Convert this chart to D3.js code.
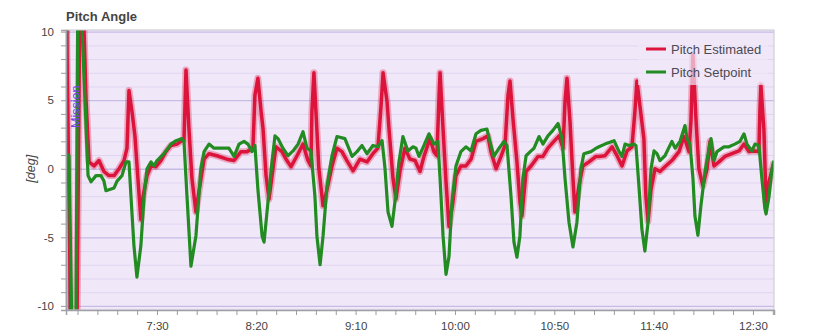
<!DOCTYPE html>
<html>
<head>
<meta charset="utf-8">
<script src="https://cdn.jsdelivr.net/npm/d3@7"></script>
<style>
  body { margin: 0; background: #fff; font-family: "Liberation Sans", Arial, sans-serif; }
</style>
</head>
<body>
<div id="chart"></div>
<script>
// time in seconds, pitch in degrees
var pitchEstimated = [
  [404.2,13],[406.7,-12],[409.7,-12],[411.2,13],[412.7,13],[414.3,5.0],[415.8,0.5],[418.3,0.2],[420.8,0.6],
  [423.3,-0.2],[425.8,-0.5],[428.4,-0.5],[430.9,0],[433.4,0.6],[434.9,1.5],[435.9,5.7],[437.4,4.2],[438.9,2.4],
  [440.4,-0.7],[441.9,-3.7],[443.0,-2.0],[445.0,-0.5],[447.0,0.2],[449.5,0.15],[452.0,0.6],[454.5,1.25],
  [457.0,1.7],[460.1,1.8],[462.6,2.05],[463.6,2.1],[464.6,7.2],[466.1,2.9],[467.6,-0.7],[469.6,-3.15],
  [471.1,-1.7],[473.7,0.7],[476.2,1.1],[480.2,0.95],[485.2,0.7],[488.8,0.6],[492.3,1.25],[495.3,1.25],
  [498.3,1.5],[499.3,5.35],[500.8,6.6],[502.4,4.2],[503.4,2.9],[504.9,-0.5],[506.4,-2.2],[508.4,0],
  [509.9,1.6],[512.9,1.25],[515.4,0.6],[517.5,0.15],[520.5,0.95],[523.5,1.8],[526.0,0.6],[527.5,0.2],
  [528.0,4.2],[529.0,7.0],[530.0,4.2],[531.5,0],[533.6,-2.7],[535.6,-1.5],[538.1,0.2],[540.6,1.5],
  [543.1,1.25],[545.6,0.6],[548.7,-0.15],[552.2,0.7],[555.7,0.5],[558.7,1.1],[561.2,1.5],[562.8,4.6],
  [563.8,7.0],[565.8,4.9],[566.8,2.9],[568.8,-0.7],[570.3,-2.2],[572.3,-0.2],[574.8,1.5],[577.4,0.7],
  [579.9,0.6],[582.4,-0.2],[584.4,0.9],[587.4,2.2],[589.4,1.25],[590.9,0.95],[592.0,5.35],[592.5,7.0],
  [594.0,2.9],[595.5,-0.95],[597.0,-4.2],[599.0,-2.4],[600.5,-0.5],[603.0,0.2],[605.5,0.2],[608.1,0.7],
  [610.6,2.0],[614.1,2.2],[616.6,2.4],[618.1,1.25],[620.7,0],[623.2,0.9],[625.2,1.7],[626.7,5.35],
  [627.7,6.4],[629.2,3.65],[631.2,0.5],[632.7,-2.4],[633.7,-3.45],[635.8,-0.2],[638.3,0.2],[641.8,0.9],
  [644.3,0.9],[646.8,1.5],[649.8,2.0],[652.4,2.4],[654.4,1.5],[655.4,4.9],[656.4,6.6],[657.9,3.45],
  [659.4,-0.7],[660.4,-3.15],[662.4,-1.25],[664.4,0.2],[667.5,0.5],[671.0,0.9],[672.5,0.9],[675.5,0.95],
  [679.1,1.6],[681.6,0.95],[684.1,0.2],[686.6,1.3],[689.1,1.6],[690.6,4.2],[691.6,6.4],[693.1,4.6],
  [695.1,2.2],[696.1,-2.0],[697.2,-3.8],[698.7,-1.5],[700.7,0],[703.2,-0.2],[705.7,0.15],[709.2,0.6],
  [712.8,1.25],[715.3,2.35],[717.8,1.25],[718.8,3.45],[719.8,8.3],[721.3,3.65],[722.8,0],[724.8,-1.25],
  [726.9,0],[728.4,2.0],[730.4,0.2],[732.9,0.5],[735.9,0.9],[739.4,1.1],[743.0,1.3],[745.5,1.8],
  [748.0,1.25],[751.0,1.3],[753.0,1.25],[753.5,4.2],[754.0,6.1],[755.5,2.9],[756.6,-2.4],[758.1,-0.95],
  [760.6,0.5]
];

var pitchSetpoint = [
  [404.2,1.1],[405.7,0.95],[407.2,-12],[409.2,-12],[410.2,14],[411.7,14],[412.2,10.5],[415.3,-0.5],
  [416.8,-0.95],[419.3,-0.5],[421.8,-0.5],[423.3,-0.9],[424.3,-1.6],[428.4,-1.4],[429.9,-0.9],[432.4,-0.5],
  [434.4,0.5],[435.9,0.5],[436.9,-2.0],[438.4,-5.6],[439.9,-7.9],[441.9,-5.6],[443.5,-2.0],[445.0,0],
  [447.0,0.5],[448.5,0.2],[450.0,0.6],[453.5,1.1],[457.0,1.8],[459.6,2.05],[462.6,2.2],[463.6,2.0],
  [465.1,-2.0],[467.1,-7.1],[469.6,-4.9],[472.1,0],[473.7,1.25],[476.2,1.8],[478.7,1.5],[482.2,1.5],
  [486.2,1.5],[488.8,0.9],[491.3,1.8],[493.8,2.0],[495.8,1.8],[497.8,1.25],[499.3,1.7],[500.8,-1.5],
  [502.9,-4.9],[503.9,-5.35],[505.9,-2.4],[507.9,0.5],[509.4,2.4],[510.9,2.2],[513.4,1.5],[515.9,0.95],
  [518.5,1.3],[521.0,1.8],[523.5,2.7],[525.5,1.5],[527.5,1.3],[529.5,-2.0],[530.5,-4.9],[532.1,-7.0],
  [533.6,-4.9],[535.6,-1.25],[538.1,0.95],[540.6,2.35],[544.6,2.2],[548.2,0.9],[550.7,1.25],[553.2,1.7],
  [555.7,1.1],[558.7,1.7],[561.2,1.6],[563.3,2.05],[564.8,0],[566.3,-3.15],[568.3,-4.2],[569.8,-2.4],
  [571.8,0.5],[573.8,2.35],[576.3,1.3],[578.9,1.6],[580.4,1.5],[581.9,0.9],[584.4,1.7],[586.9,2.55],
  [589.4,1.8],[591.4,2.0],[592.5,-0.7],[594.0,-4.9],[595.5,-7.7],[597.0,-6.4],[598.5,-2.4],[600.5,0.2],
  [603.0,1.25],[605.5,1.6],[608.1,1.3],[610.6,2.55],[613.1,2.8],[616.1,2.9],[617.6,2.0],[619.6,0.9],
  [622.2,1.5],[624.7,2.0],[626.2,1.7],[628.2,-2.0],[629.7,-5.35],[631.2,-6.45],[632.7,-4.9],[634.2,-0.7],
  [635.8,0.95],[638.3,1.3],[639.8,1.5],[642.3,2.35],[644.3,1.8],[646.8,2.4],[649.3,2.8],[651.9,3.3],
  [653.9,2.2],[655.4,-0.7],[657.4,-3.9],[659.4,-5.7],[661.4,-3.9],[663.4,0],[664.9,1.1],[668.5,1.25],
  [671.0,1.5],[672.5,1.6],[675.5,1.8],[680.1,2.05],[682.6,1.25],[684.1,0.9],[685.6,1.8],[687.6,1.7],
  [690.1,1.8],[691.1,1.7],[692.6,-1.25],[694.1,-4.4],[695.6,-6.0],[697.2,-3.9],[698.7,0],[700.2,1.3],
  [701.7,1.1],[703.2,0.6],[705.7,0.95],[709.2,2.0],[710.8,1.5],[713.3,2.0],[715.8,3.15],[716.8,2.2],
  [718.3,1.8],[719.8,-0.7],[720.8,-3.45],[722.3,-4.85],[723.8,-2.7],[725.9,-0.2],[727.9,1.5],[728.9,2.2],
  [730.4,0.6],[731.9,1.25],[735.4,1.6],[737.9,1.6],[740.9,1.8],[743.5,2.0],[745.5,2.55],[747.0,1.8],
  [749.5,1.3],[751.0,1.8],[753.0,1.7],[754.5,-0.7],[756.0,-2.9],[756.6,-3.3],[758.1,-2.0],[759.6,0],
  [760.6,0.6]
];

// flight modes: [start, end, name]
var modes = [[404.2, 405.6, ""], [405.6, 760.6, "Mission"]];
var modeColors = ["#fbe2ec", "#f0e7f8"];

var seriesNames = ["Pitch Estimated", "Pitch Setpoint"];
var seriesColors = ["#dc143c", "#228b22"];

var xDomain = [404.2, 760.6];
var yDomain = [-10.3, 10.12];
var xMinorTicks = d3.range(410, 761, 10);
var yMinorTicks = d3.range(-10, 11, 1);

var W = 834, H = 333;
var margin = {top: 30, right: 60, bottom: 23, left: 66};
var w = W - margin.left - margin.right,
    h = H - margin.top - margin.bottom;

var svg = d3.select("#chart").append("svg")
    .attr("width", W)
    .attr("height", H)
    .attr("font-family", "'Liberation Sans', Arial, sans-serif");

var x = d3.scaleLinear().domain(xDomain).range([0, w]);
var y = d3.scaleLinear().domain(yDomain).range([h, 0]);

svg.append("text")
    .attr("x", margin.left)
    .attr("y", 21)
    .attr("font-size", 13)
    .attr("font-weight", "bold")
    .attr("fill", "#444")
    .text("Pitch Angle");

svg.append("text")
    .attr("transform", "translate(35," + (margin.top + y(0)) + ") rotate(-90)")
    .attr("text-anchor", "middle")
    .attr("font-size", 12.5)
    .attr("font-style", "italic")
    .attr("fill", "#444")
    .text("[deg]");

var g = svg.append("g").attr("transform", "translate(" + margin.left + "," + margin.top + ")");

g.append("clipPath").attr("id", "clip")
  .append("rect").attr("width", w).attr("height", h);

// mode backgrounds
g.selectAll(".mode")
  .data(modes)
  .enter().append("rect")
    .attr("class", "mode")
    .attr("x", function(d) { return x(d[0]); })
    .attr("y", 0)
    .attr("width", function(d) { return x(d[1]) - x(d[0]); })
    .attr("height", h)
    .attr("fill", function(d, i) { return modeColors[i]; });

// grid
g.selectAll(".grid")
  .data(yMinorTicks)
  .enter().append("line")
    .attr("class", "grid")
    .attr("x1", 0).attr("x2", w)
    .attr("y1", function(d) { return y(d) + 0.5; })
    .attr("y2", function(d) { return y(d) + 0.5; })
    .attr("stroke", function(d) { return d % 5 === 0 ? "#c6bde6" : "#e0d6f2"; })
    .attr("stroke-width", function(d) { return d % 5 === 0 ? 1.3 : 1; });

// mode boundary
g.append("line")
    .attr("x1", x(modes[1][0])).attr("x2", x(modes[1][0]))
    .attr("y1", 0).attr("y2", h)
    .attr("stroke", "#777").attr("stroke-width", 1);

var line = d3.line()
    .x(function(d) { return x(d[0]); })
    .y(function(d) { return y(d[1]); });

var plot = g.append("g").attr("clip-path", "url(#clip)");

plot.append("path")
    .datum(pitchEstimated)
    .attr("fill", "none")
    .attr("stroke", seriesColors[0])
    .attr("stroke-opacity", 0.3)
    .attr("stroke-width", 7)
    .attr("stroke-linejoin", "round")
    .attr("d", line);

plot.append("path")
    .datum(pitchEstimated)
    .attr("fill", "none")
    .attr("stroke", seriesColors[0])
    .attr("stroke-width", 3.5)
    .attr("stroke-linejoin", "round")
    .attr("d", line);

plot.append("path")
    .datum(pitchSetpoint)
    .attr("fill", "none")
    .attr("stroke", seriesColors[1])
    .attr("stroke-width", 3.2)
    .attr("stroke-linejoin", "round")
    .attr("d", line);

// mode label on top of the lines
g.append("text")
    .attr("transform", "translate(" + (x(modes[1][0]) + 11) + ",98) rotate(-90)")
    .attr("font-size", 12.5)
    .attr("fill", "#7b3fe4")
    .text(modes[1][2]);

// frame
g.append("rect")
    .attr("width", w).attr("height", h)
    .attr("fill", "none")
    .attr("stroke", "#c8c8d0");

function fmtTime(t) {
  var m = Math.floor(t / 60), s = Math.round(t - m * 60);
  return m + ":" + (s < 10 ? "0" + s : s);
}

var xAxis = g.append("g")
    .attr("transform", "translate(0," + h + ")")
    .call(d3.axisBottom(x)
      .tickValues(xMinorTicks)
      .tickSize(5)
      .tickPadding(7)
      .tickFormat(function(d) { return (d - 450) % 50 === 0 ? fmtTime(d) : ""; }));

var yAxis = g.append("g")
    .call(d3.axisLeft(y)
      .tickValues(yMinorTicks)
      .tickSize(5)
      .tickPadding(7)
      .tickFormat(function(d) { return d % 5 === 0 ? String(d) : ""; }));

[xAxis, yAxis].forEach(function(a) {
  a.select(".domain").attr("stroke", "#a0a0a8").attr("stroke-width", 1.5);
  a.selectAll(".tick line").attr("stroke", "#9a9aa2");
  a.selectAll(".tick text").attr("fill", "#444").attr("font-size", 11.5)
    .attr("font-family", "'Liberation Sans', Arial, sans-serif");
});

// legend
var legend = g.append("g").attr("transform", "translate(" + (w - 136) + ",7)");
legend.append("rect")
    .attr("width", 130).attr("height", 48)
    .attr("fill", modeColors[1]).attr("fill-opacity", 0.7);

var item = legend.selectAll(".item")
  .data(seriesNames)
  .enter().append("g")
    .attr("class", "item")
    .attr("transform", function(d, i) { return "translate(0," + (12 + i * 23) + ")"; });

item.append("line")
    .attr("x1", 8).attr("x2", 28)
    .attr("stroke", function(d, i) { return seriesColors[i]; })
    .attr("stroke-width", 3);

item.append("text")
    .attr("x", 33).attr("y", 4.5)
    .attr("font-size", 13)
    .attr("fill", "#4a4a55")
    .text(function(d) { return d; });
</script>
</body>
</html>
